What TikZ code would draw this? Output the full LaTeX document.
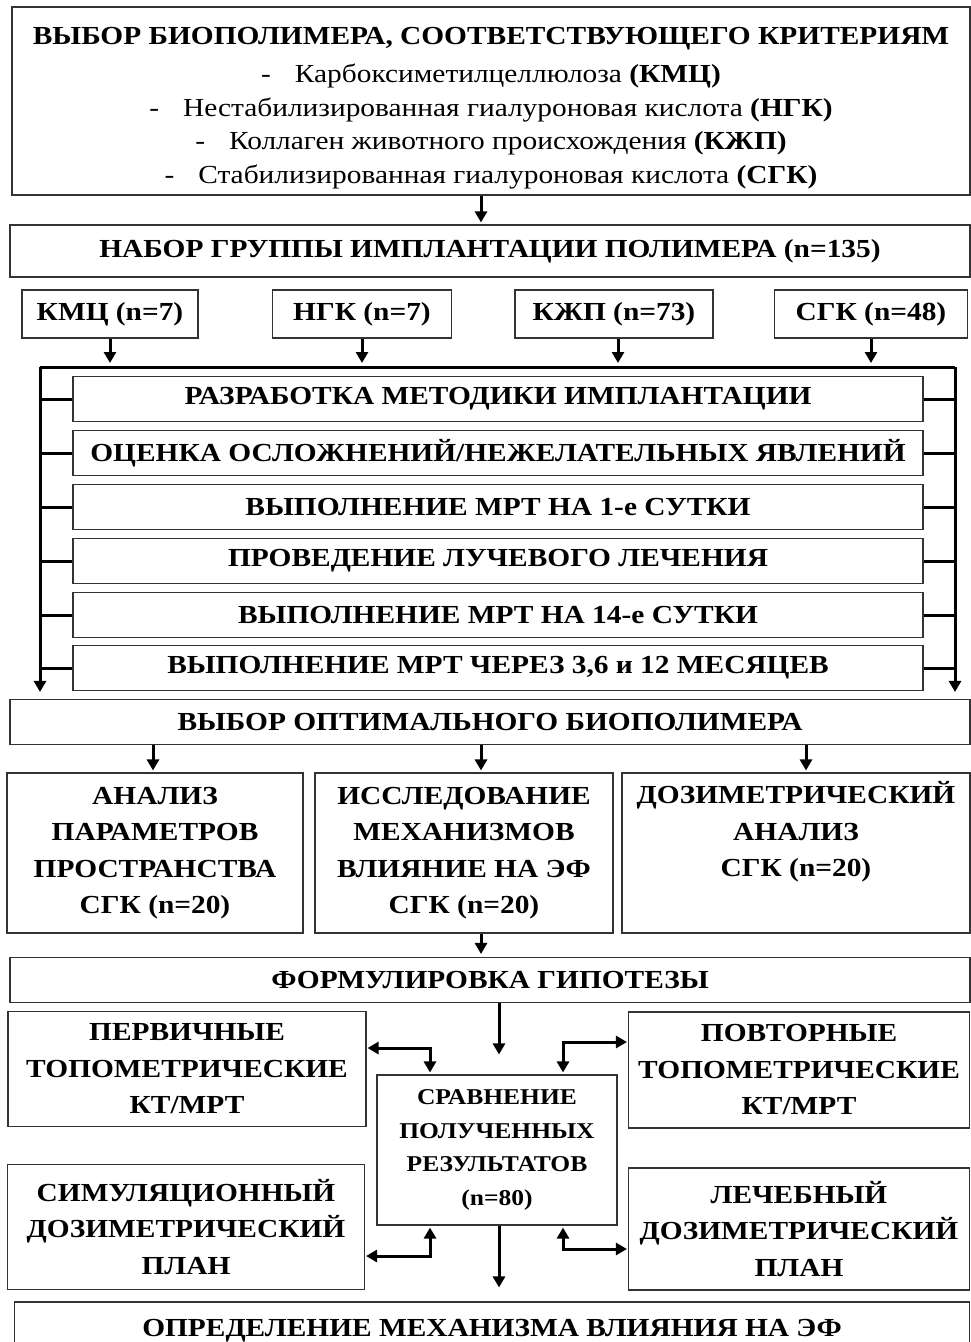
\documentclass[tikz,border=0pt]{standalone}
\usepackage{fontspec}
\setmainfont[FakeStretch=1.13]{Liberation Serif}
\usetikzlibrary{arrows.meta}
\newcommand\hdfont{\fontsize{26}{36.5}\selectfont\bfseries}
\newcommand\itfont{\fontsize{26}{33.5}\selectfont}

\begin{document}
\begin{tikzpicture}[x=1pt, y=-1pt,
  box/.style 2 args={draw=black!80, line width=1.1pt, minimum width=#1pt, minimum height=#2pt, inner sep=0pt, align=center, font=\hdfont},
  arr/.style={line width=3pt, -{Triangle[length=11pt, width=12pt]}},
  twoway/.style={line width=3pt, {Triangle[length=11pt, width=12pt]}-{Triangle[length=11pt, width=12pt]}},
  bus/.style={line width=3pt}]
\useasboundingbox (0,0) rectangle (971,1342);
\node[box={958}{188}, font=\itfont] (crit) at (491,101) {\rule{0pt}{31pt}{\bfseries ВЫБОР БИОПОЛИМЕРА, СООТВЕТСТВУЮЩЕГО КРИТЕРИЯМ}\\[5pt]
-\hspace{24pt}Карбоксиметилцеллюлоза \textbf{(КМЦ)}\\
-\hspace{24pt}Нестабилизированная гиалуроновая кислота \textbf{(НГК)}\\
-\hspace{24pt}Коллаген животного происхождения \textbf{(КЖП)}\\
-\hspace{24pt}Стабилизированная гиалуроновая кислота \textbf{(СГК)}};
\node[box={960}{52}] (nabor) at (490,251) {НАБОР ГРУППЫ ИМПЛАНТАЦИИ ПОЛИМЕРА (n=135)};
\node[box={176}{48}] (kmc) at (110,314) {КМЦ (n=7)};
\node[box={179}{48}] (ngk) at (362,314) {НГК (n=7)};
\node[box={198}{48}] (kzhp) at (614,314) {КЖП (n=73)};
\node[box={193}{48}] (sgk) at (871,314) {СГК (n=48)};
\node[box={850}{45}] (st1) at (498,399) {РАЗРАБОТКА МЕТОДИКИ ИМПЛАНТАЦИИ};
\node[box={850}{45}] (st2) at (498,453) {ОЦЕНКА ОСЛОЖНЕНИЙ/НЕЖЕЛАТЕЛЬНЫХ ЯВЛЕНИЙ};
\node[box={850}{45}] (st3) at (498,507) {ВЫПОЛНЕНИЕ МРТ НА 1-е СУТКИ};
\node[box={850}{45}] (st4) at (498,561) {ПРОВЕДЕНИЕ ЛУЧЕВОГО ЛЕЧЕНИЯ};
\node[box={850}{45}] (st5) at (498,615) {ВЫПОЛНЕНИЕ МРТ НА 14-е СУТКИ};
\node[box={850}{45}] (st6) at (498,668) {ВЫПОЛНЕНИЕ МРТ ЧЕРЕЗ 3,6 и 12 МЕСЯЦЕВ};
\node[box={960}{45}] (vybor) at (490,722) {ВЫБОР ОПТИМАЛЬНОГО БИОПОЛИМЕРА};
\node[box={296}{160}] (anal) at (155,853) {АНАЛИЗ\\ПАРАМЕТРОВ\\ПРОСТРАНСТВА\\СГК (n=20)};
\node[box={298}{160}] (issl) at (464,853) {ИССЛЕДОВАНИЕ\\МЕХАНИЗМОВ\\ВЛИЯНИЕ НА ЭФ\\СГК (n=20)};
\node[box={348}{160}] (dozan) at (796,853) {ДОЗИМЕТРИЧЕСКИЙ\\АНАЛИЗ\\СГК (n=20)\\\strut};
\node[box={960}{45}] (form) at (490,980) {ФОРМУЛИРОВКА ГИПОТЕЗЫ};
\node[box={358}{115}] (perv) at (187,1069) {ПЕРВИЧНЫЕ\\ТОПОМЕТРИЧЕСКИЕ\\КТ/МРТ};
\node[box={341}{116}] (povt) at (799,1070) {ПОВТОРНЫЕ\\ТОПОМЕТРИЧЕСКИЕ\\КТ/МРТ};
\node[box={357}{125}] (sim) at (186,1227) {СИМУЛЯЦИОННЫЙ\\ДОЗИМЕТРИЧЕСКИЙ\\ПЛАН};
\node[box={341}{122}] (leche) at (799,1229) {ЛЕЧЕБНЫЙ\\ДОЗИМЕТРИЧЕСКИЙ\\ПЛАН};
\node[box={240}{150}, font=\fontsize{22.6}{33.5}\selectfont\bfseries] (srav) at (497,1150) {СРАВНЕНИЕ\\ПОЛУЧЕННЫХ\\РЕЗУЛЬТАТОВ\\(n=80)};
\node[box={955}{58}] (opred) at (492,1331) {ОПРЕДЕЛЕНИЕ МЕХАНИЗМА ВЛИЯНИЯ НА ЭФ};
\coordinate (busl) at (40,367);
\coordinate (busr) at (955,367);
\coordinate (lt) at (430,1048);
\coordinate (rt) at (563,1042);
\coordinate (lb) at (430,1256);
\coordinate (rb) at (563,1249);
\draw[arr, shorten >=2pt] ([xshift=-10pt]crit.south) -- ([xshift=-9pt]nabor.north);
\draw[arr, shorten >=4pt] (kmc.south) -- (kmc.south |- busl);
\draw[arr, shorten >=4pt] (ngk.south) -- (ngk.south |- busl);
\draw[arr, shorten >=4pt] ([xshift=4pt]kzhp.south) -- ([xshift=4pt]kzhp.south |- busl);
\draw[arr, shorten >=4pt] (sgk.south) -- (sgk.south |- busl);
\draw[bus] (busl) -- (busr);
\draw[arr, shorten >=7pt] (busl) -- (busl |- vybor.north);
\draw[arr, shorten >=7pt] (busr) -- (busr |- vybor.north);
\draw[bus] (busl |- st1.west) -- (st1.west);
\draw[bus] (busl |- st2.west) -- (st2.west);
\draw[bus] (busl |- st3.west) -- (st3.west);
\draw[bus] (busl |- st4.west) -- (st4.west);
\draw[bus] (busl |- st5.west) -- (st5.west);
\draw[bus] (busl |- st6.west) -- (st6.west);
\draw[bus] (st1.east) -- (busr |- st1.east);
\draw[bus] (st2.east) -- (busr |- st2.east);
\draw[bus] (st3.east) -- (busr |- st3.east);
\draw[bus] (st4.east) -- (busr |- st4.east);
\draw[bus] (st5.east) -- (busr |- st5.east);
\draw[bus] (st6.east) -- (busr |- st6.east);
\draw[arr, shorten >=2pt] ([xshift=-2pt]anal.north |- vybor.south) -- ([xshift=-2pt]anal.north);
\draw[arr, shorten >=2pt] ([xshift=17pt]issl.north |- vybor.south) -- ([xshift=17pt]issl.north);
\draw[arr, shorten >=2pt] ([xshift=10pt]dozan.north |- vybor.south) -- ([xshift=10pt]dozan.north);
\draw[arr, shorten >=3pt] ([xshift=17pt]issl.south) -- ([xshift=17pt]issl.south |- form.north);
\draw[arr, shorten >=20pt] ([xshift=2pt]srav.north |- form.south) -- ([xshift=2pt]srav.north);
\draw[arr, shorten >=14pt] ([xshift=2pt]srav.south) -- ([xshift=2pt]srav.south |- opred.north);
\draw[twoway, shorten <=1pt, shorten >=2pt] (perv.east |- lt) -- (lt) -- (lt |- srav.north);
\draw[twoway, shorten <=1pt, shorten >=2pt] (povt.west |- rt) -- (rt) -- (rt |- srav.north);
\draw[twoway, shorten <=1pt, shorten >=2pt] (sim.east |- lb) -- (lb) -- (lb |- srav.south);
\draw[twoway, shorten <=1pt, shorten >=2pt] (leche.west |- rb) -- (rb) -- (rb |- srav.south);
\end{tikzpicture}
\end{document}
